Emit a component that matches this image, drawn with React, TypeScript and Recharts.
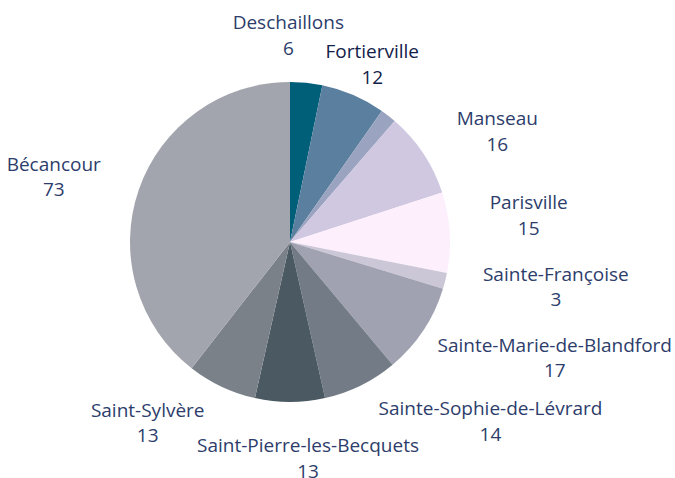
import { PieChart, Pie, Cell } from 'recharts'

const municipalities = [
  'Deschaillons',
  'Fortierville',
  'Lemieux',
  'Manseau',
  'Parisville',
  'Sainte-Françoise',
  'Sainte-Marie-de-Blandford',
  'Sainte-Sophie-de-Lévrard',
  'Saint-Pierre-les-Becquets',
  'Saint-Sylvère',
  'Bécancour',
]

const counts = [6, 12, 3, 16, 15, 3, 17, 14, 13, 13, 73]

const sliceColors = [
  '#005f78',
  '#5b7f9f',
  '#9aa3c0',
  '#d0c8e1',
  '#fdf0fc',
  '#ccc7d7',
  '#a0a2b2',
  '#737c86',
  '#4a5962',
  '#7b8189',
  '#a3a5ae',
]

// the original hid one label and moved a few others out of the way
const hiddenLabels = new Set(['Lemieux'])
const labelNudge: Record<string, { dx: number; dy: number; center?: boolean }> = {
  Deschaillons: { dx: -22, dy: -8, center: true },
  Fortierville: { dx: 3, dy: 6, center: true },
  Parisville: { dx: 0, dy: -15 },
  'Sainte-Françoise': { dx: -1, dy: -4 },
  'Sainte-Marie-de-Blandford': { dx: 0, dy: 5 },
  'Saint-Pierre-les-Becquets': { dx: 18, dy: 16, center: true },
}

const RADIAN = Math.PI / 180
const LABEL_RADIUS = 200
const FONT_SIZE = 19
const FONT = `${FONT_SIZE}px 'Open Sans', sans-serif`
const TEXT = '#2d3d6b'
const WIDTH = 675
const HEIGHT = 478

const data = municipalities.map((name, i) => ({ name, value: counts[i] }))

let ctx: CanvasRenderingContext2D | null = null
function textWidth(s: string) {
  if (!ctx) ctx = document.createElement('canvas').getContext('2d')
  if (!ctx) return s.length * FONT_SIZE * 0.5
  ctx.font = FONT
  return ctx.measureText(s).width
}

function renderLabel(props: any) {
  const { cx, cy, midAngle, index } = props
  const item = data[index]
  if (!item || hiddenLabels.has(item.name)) return null
  const nudge = labelNudge[item.name] || { dx: 0, dy: 0 }
  const px = cx + LABEL_RADIUS * Math.cos(-midAngle * RADIAN) + nudge.dx
  const y = cy + LABEL_RADIUS * Math.sin(-midAngle * RADIAN) + nudge.dy
  const w = textWidth(item.name)
  // block is centred text, anchored at its left or right side
  let x = nudge.center ? px : px > cx ? px + w / 2 : px - w / 2
  x = Math.min(Math.max(x, w / 2 + 3), WIDTH - 3 - w / 2)
  const highlight = item.name === 'Fortierville'
  return (
    <text
      x={x}
      y={y}
      textAnchor="middle"
      fill={highlight ? '#12214a' : TEXT}
      fontSize={FONT_SIZE}
      fontFamily="'Open Sans', sans-serif"
    >
      <tspan x={x} dy={-6}>{item.name}</tspan>
      <tspan x={x} dy={25.5}>{item.value}</tspan>
    </text>
  )
}

export default function App() {
  return (
    <div style={{ position: 'absolute', left: 0, top: 0, background: '#fff' }}>
      <PieChart width={WIDTH} height={HEIGHT} margin={{ top: 0, right: 0, bottom: 0, left: 0 }}>
        <Pie
          data={data}
          dataKey="value"
          nameKey="name"
          cx={290}
          cy={242}
          outerRadius={160}
          startAngle={90}
          endAngle={-270}
          stroke="none"
          label={renderLabel}
          labelLine={false}
          isAnimationActive={false}
        >
          {data.map((d, i) => (
            <Cell key={d.name} fill={sliceColors[i]} />
          ))}
        </Pie>
      </PieChart>
    </div>
  )
}
